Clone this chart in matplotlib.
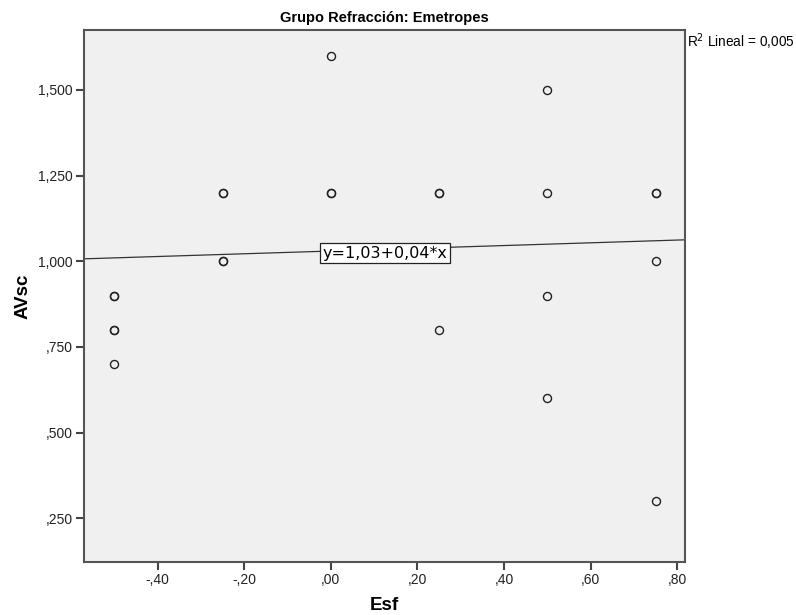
import numpy as np
import matplotlib
matplotlib.use("Agg")
import matplotlib.pyplot as plt

plt.rcParams['font.family'] = ['Liberation Sans', 'DejaVu Sans']

# Esf / AVsc pairs (repeated pairs drawn twice)
esf = [-0.50, -0.50, -0.50, -0.50, -0.50,
       -0.25, -0.25, -0.25, -0.25,
       0.00, 0.00, 0.00,
       0.25, 0.25, 0.25,
       0.50, 0.50, 0.50, 0.50,
       0.75, 0.75, 0.75, 0.75]
avsc = [0.90, 0.90, 0.80, 0.80, 0.70,
        1.20, 1.20, 1.00, 1.00,
        1.60, 1.20, 1.20,
        1.20, 1.20, 0.80,
        1.50, 1.20, 0.90, 0.60,
        1.20, 1.20, 1.00, 0.30]
intercept, slope = 1.03, 0.04
x_ticks = [-0.40, -0.20, 0.00, 0.20, 0.40, 0.60, 0.80]
x_ticklabels = ['-,40', '-,20', ',00', ',20', ',40', ',60', ',80']
y_ticks = [0.25, 0.50, 0.75, 1.00, 1.25, 1.50]
y_ticklabels = [',250', ',500', ',750', '1,000', '1,250', '1,500']

fig = plt.figure(figsize=(7.96, 6.15), dpi=100)
ax = fig.add_axes([0.1055, 0.0862, 0.755, 0.865])
ax.set_facecolor('#f0f0f0')

ax.plot(esf, avsc, 'o', mfc='none', mec='#222222', ms=5.8, mew=1.0, ls='none')

xmin, xmax = -0.570, 0.8175
xs = np.array([xmin, xmax])
ax.plot(xs, intercept + slope * xs, color='#333333', lw=0.9)

ax.text(0.125, 1.0235, 'y=1,03+0,04*x', ha='center', va='center',
        fontsize=11.5, family='DejaVu Sans',
        bbox=dict(boxstyle='square,pad=0.15', fc='white', ec='#222222', lw=0.9))

ax.set_xlim(xmin, xmax)
ax.set_ylim(0.1225, 1.675)
ax.set_xticks(x_ticks)
ax.set_xticklabels(x_ticklabels)
ax.set_yticks(y_ticks)
ax.set_yticklabels(y_ticklabels)
ax.tick_params(direction='out', length=6, width=1.5, labelsize=10, colors='#444444',
               labelcolor='#222222', pad=2)

for sp in ax.spines.values():
    sp.set_color('#555555')
    sp.set_linewidth(1.5)

ax.set_xlabel('Esf', fontsize=13.5, fontweight='bold', labelpad=7)
ax.set_ylabel('AVsc', fontsize=13.5, fontweight='bold', labelpad=5)
ax.set_title('Grupo Refracción: Emetropes', fontsize=10.5, fontweight='bold', pad=6)

fig.text(687 / 796, 1 - 42 / 615, 'R$^2$ Lineal = 0,005', fontsize=9.8, ha='left', va='center')

fig.savefig('out.png', dpi=100)
